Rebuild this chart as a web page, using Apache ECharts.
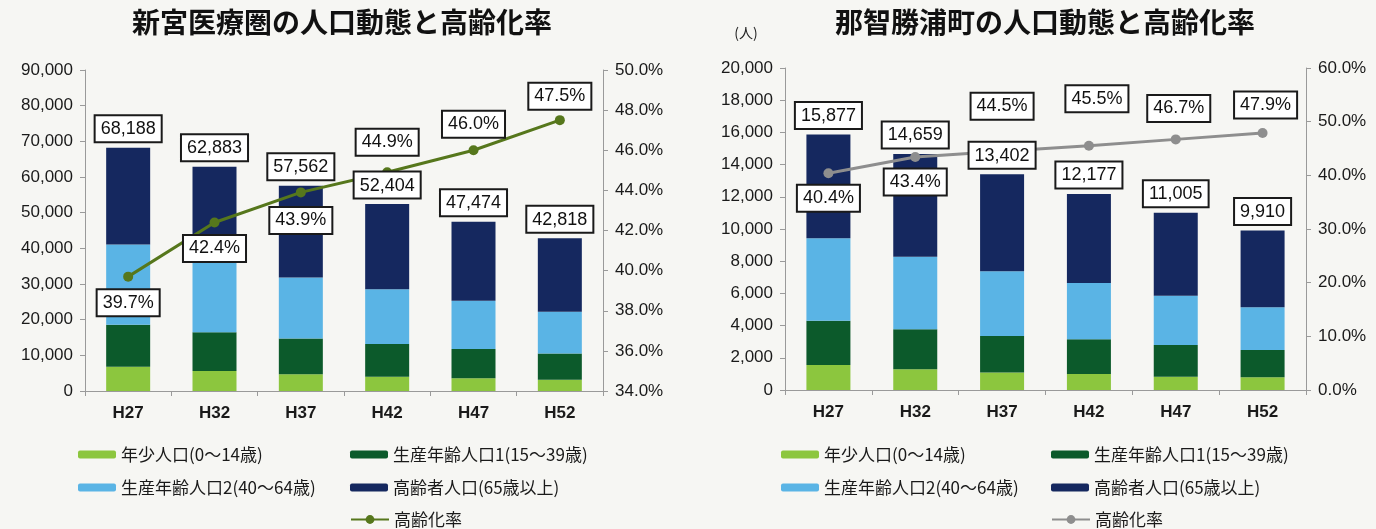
<!DOCTYPE html>
<html>
<head>
<meta charset="utf-8">
<script src="https://cdn.jsdelivr.net/npm/echarts@6/dist/echarts.min.js"></script>
<style>
  html, body { margin: 0; padding: 0; background: #f6f6f3; }
  #left, #right { position: absolute; top: 0; width: 688px; height: 529px; }
  #left { left: 0; }
  #right { left: 688px; }
</style>
</head>
<body>
<div id="left"></div>
<div id="right"></div>
<script>
// 年次
const categories = ['H27', 'H32', 'H37', 'H42', 'H47', 'H52'];
const seriesNames = ['年少人口(0～14歳)', '生産年齢人口1(15～39歳)', '生産年齢人口2(40～64歳)', '高齢者人口(65歳以上)'];
const rateName = '高齢化率';

// 新宮医療圏
const shinguYoung = [6800, 5600, 4700, 4000, 3550, 3150];
const shinguProd1 = [11800, 10900, 10000, 9200, 8250, 7350];
const shinguProd2 = [22500, 20000, 17100, 15300, 13500, 11700];
const shinguElderly = [27088, 26383, 25762, 23904, 22174, 20618];
const shinguTotal = [68188, 62883, 57562, 52404, 47474, 42818];
const shinguRate = [39.7, 42.4, 43.9, 44.9, 46.0, 47.5];

// 那智勝浦町
const nachiYoung = [1550, 1290, 1080, 990, 830, 790];
const nachiProd1 = [2750, 2480, 2270, 2160, 1970, 1690];
const nachiProd2 = [5130, 4500, 4030, 3500, 3050, 2660];
const nachiElderly = [6447, 6389, 6022, 5527, 5155, 4770];
const nachiTotal = [15877, 14659, 13402, 12177, 11005, 9910];
const nachiRate = [40.4, 43.4, 44.5, 45.5, 46.7, 47.9];

const colors = ['#8cc63e', '#0c5a2b', '#5ab4e5', '#15285f'];
const NUM_FONT = "'Liberation Sans', Arial, 'Noto Sans CJK JP', sans-serif";
const JP_FONT = "'Noto Sans CJK JP', 'Liberation Sans', sans-serif";

const boxLabel = {
  backgroundColor: '#ffffff',
  borderColor: '#1a1a1a',
  borderWidth: 2,
  padding: [4, 5, 3, 5],
  color: '#111',
  fontSize: 18,
  fontFamily: NUM_FONT
};

function buildOption(cfg) {
  const barSeries = cfg.stacks.map((vals, i) => ({
    name: seriesNames[i],
    type: 'bar',
    stack: 'pop',
    barWidth: 44,
    data: vals,
    itemStyle: { color: colors[i] },
    z: 2
  }));

  // 合計ラベル(折れ線より前面)
  const totalSeries = {
    name: 'total',
    type: 'scatter',
    symbolSize: 1,
    z: 10,
    silent: true,
    itemStyle: { color: 'rgba(0,0,0,0)', opacity: 1 },
    data: cfg.total,
    label: {
      show: true,
      position: 'top',
      distance: 6,
      ...boxLabel,
      formatter: p => p.value.toLocaleString('en-US')
    }
  };

  const rateSeries = {
    name: rateName,
    type: 'line',
    yAxisIndex: 1,
    symbol: 'circle',
    symbolSize: 10,
    z: 5,
    lineStyle: { width: 3, color: cfg.lineColor },
    itemStyle: { color: cfg.lineColor },
    data: cfg.rate.map((v, i) => ({
      value: v,
      label: { offset: cfg.rateLabelOffset[i] }
    })),
    label: {
      show: true,
      position: 'inside',
      ...boxLabel,
      formatter: p => p.value.toFixed(1) + '%'
    }
  };

  const axisLine = { show: true, lineStyle: { color: '#9a9a9a', width: 1 } };
  const axisLabel = { color: '#1a1a1a', fontSize: 17, fontFamily: NUM_FONT };

  const legendItem = (name, left, cy, isLine) => ({
    data: [name],
    left: left,
    top: cy - 9,
    padding: 0,
    itemWidth: 38,
    itemHeight: isLine ? 11 : 8,
    selectedMode: false,
    textStyle: { fontSize: 17, color: '#1a1a1a', fontFamily: JP_FONT }
  });

  return {
    animation: false,
    textStyle: { fontFamily: NUM_FONT },
    graphic: cfg.graphic,
    grid: cfg.grid,
    legend: [
      legendItem(seriesNames[0], cfg.legendCols[0], 455),
      legendItem(seriesNames[1], cfg.legendCols[1], 455),
      legendItem(seriesNames[2], cfg.legendCols[0], 488),
      legendItem(seriesNames[3], cfg.legendCols[1], 488),
      legendItem(rateName, cfg.legendCols[1], 520, true)
    ],
    xAxis: {
      type: 'category',
      data: categories,
      axisLine: axisLine,
      axisTick: { show: true, alignWithLabel: false, length: 5, lineStyle: { color: '#9a9a9a' } },
      axisLabel: { ...axisLabel, fontWeight: 'bold', margin: 14 }
    },
    yAxis: [
      {
        type: 'value',
        min: 0,
        max: cfg.popMax,
        interval: cfg.popInterval,
        axisLine: axisLine,
        axisTick: { show: true, length: 5, lineStyle: { color: '#9a9a9a' } },
        splitLine: { show: false },
        axisLabel: { ...axisLabel, margin: 12, formatter: v => v.toLocaleString('en-US') }
      },
      {
        type: 'value',
        min: cfg.rateMin,
        max: cfg.rateMax,
        interval: cfg.rateInterval,
        axisLine: axisLine,
        axisTick: { show: true, length: 5, lineStyle: { color: '#9a9a9a' } },
        splitLine: { show: false },
        axisLabel: { ...axisLabel, margin: 12, formatter: v => v.toFixed(1) + '%' }
      }
    ],
    series: [...barSeries, rateSeries, totalSeries]
  };
}

const titleStyle = { fontSize: 28, fontWeight: 'bold', fill: '#111', fontFamily: JP_FONT, align: 'center', verticalAlign: 'middle' };

const leftChart = echarts.init(document.getElementById('left'));
leftChart.setOption(buildOption({
  stacks: [shinguYoung, shinguProd1, shinguProd2, shinguElderly],
  total: shinguTotal,
  rate: shinguRate,
  lineColor: '#56771c',
  rateLabelOffset: [[0, 26], [0, 26], [0, 28], [0, -30], [0, -26], [0, -24]],
  grid: { left: 85, top: 70, width: 518, height: 321 },
  popMax: 90000, popInterval: 10000,
  rateMin: 34, rateMax: 50, rateInterval: 2,
  legendCols: [78, 350],
  graphic: [
    { type: 'text', x: 342, y: 22, style: { text: '新宮医療圏の人口動態と高齢化率', ...titleStyle } }
  ]
}));

const rightChart = echarts.init(document.getElementById('right'));
rightChart.setOption(buildOption({
  stacks: [nachiYoung, nachiProd1, nachiProd2, nachiElderly],
  total: nachiTotal,
  rate: nachiRate,
  lineColor: '#8e8e8e',
  rateLabelOffset: [[0, 25], [0, 25], [0, -45], [8, -47], [3, -31], [3, -28]],
  grid: { left: 97, top: 68, width: 521, height: 322 },
  popMax: 20000, popInterval: 2000,
  rateMin: 0, rateMax: 60, rateInterval: 10,
  legendCols: [93, 363],
  graphic: [
    { type: 'text', x: 357, y: 22, style: { text: '那智勝浦町の人口動態と高齢化率', ...titleStyle } },
    { type: 'text', x: 58, y: 33, style: { text: '(人)', fontSize: 14, fill: '#222', fontFamily: JP_FONT, align: 'center', verticalAlign: 'middle' } }
  ]
}));
</script>
</body>
</html>
